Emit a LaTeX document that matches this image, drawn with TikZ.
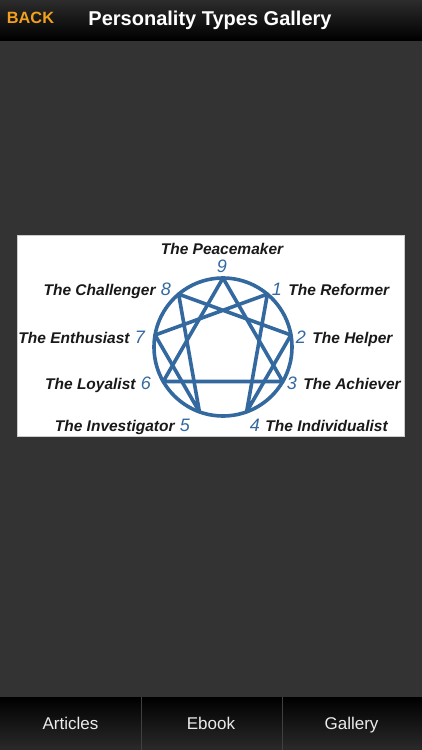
\documentclass[tikz,border=0pt]{standalone}
\usepackage{fontspec}
\setmainfont{Liberation Sans}
\usepackage{tikz}
\usetikzlibrary{positioning}
\definecolor{EnnBlue}{HTML}{3469A0}
\definecolor{BackOrange}{HTML}{F2A01E}
\definecolor{AppGray}{HTML}{333333}
\definecolor{BarTop}{HTML}{2C2C2C}
\definecolor{TabBottom}{HTML}{2A2A2A}

\begin{document}
\begin{tikzpicture}[x=1pt,y=-1pt,
  num/.style={inner sep=0pt,text=EnnBlue,font=\itshape\fontsize{18}{18}\selectfont},
  typename/.style={inner sep=0pt,text=black!90,font=\bfseries\itshape\fontsize{15.5}{15.5}\selectfont},
  tabtext/.style={inner sep=0pt,anchor=base,text=white!92!black,font=\fontsize{17}{17}\selectfont},
  ennline/.style={EnnBlue,line width=3.6pt,line join=round,line cap=round}]
  \useasboundingbox (0,0) rectangle (422,750);
  \fill[AppGray] (0,0) rectangle (422,750);
  % top bar
  \shade[top color=BarTop,bottom color=black] (0,0) rectangle (422,40);
  \node[inner sep=0pt,text=BackOrange,font=\bfseries\fontsize{16.3}{16.3}\selectfont] (back) at (30.5,18) {BACK};
  \node[inner sep=0pt,text=white,font=\bfseries\fontsize{20}{20}\selectfont] (title) at (210,20) {Personality Types Gallery};
  % picture
  \draw[fill=white,draw=black!20] (17,235) rectangle (404,436);
  \coordinate (c) at (223,347);
  \foreach \k in {0,...,8}
    \path (c) ++({40*\k-90}:69) coordinate (p\k);
  \draw[ennline] (c) circle (69);
  \draw[ennline] (p0) -- (p3) -- (p6) -- cycle;
  \draw[ennline] (p1) -- (p4) -- (p2) -- (p8) -- (p5) -- (p7) -- cycle;
  % numbers
  \node[num] (n9) at (222,266) {9};
  \node[num] (n1) at (277,289) {1};
  \node[num] (n2) at (301,337) {2};
  \node[num] (n3) at (292,383) {3};
  \node[num] (n4) at (255,425) {4};
  \node[num] (n5) at (185,425) {5};
  \node[num] (n6) at (146,383) {6};
  \node[num] (n7) at (140,337) {7};
  \node[num] (n8) at (166,289) {8};
  % type names
  \node[typename,above=5pt of n9] (t9) {The Peacemaker};
  \node[typename,base right=6pt of n1] (t1) {The Reformer};
  \node[typename,base right=6pt of n2] (t2) {The Helper};
  \node[typename,base right=6pt of n3] (t3) {The Achiever};
  \node[typename,base right=5pt of n4] (t4) {The Individualist};
  \node[typename,base left=5pt of n5] (t5) {The Investigator};
  \node[typename,base left=5pt of n6] (t6) {The Loyalist};
  \node[typename,base left=5pt of n7] (t7) {The Enthusiast};
  \node[typename,base left=5pt of n8] (t8) {The Challenger};
  % tab bar
  \shade[top color=black,bottom color=TabBottom] (0,697) rectangle (422,750);
  \draw[black!75] (141,697) -- (141,750) (282,697) -- (282,750);
  \node[tabtext] (articles) at (70.5,729) {Articles};
  \node[tabtext] (ebook) at (211,729) {Ebook};
  \node[tabtext] (gallery) at (351.5,729) {Gallery};
\end{tikzpicture}
\end{document}
